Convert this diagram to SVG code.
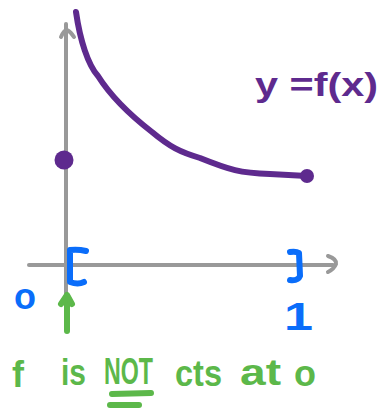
<svg xmlns="http://www.w3.org/2000/svg" width="392" height="408" viewBox="0 0 392 408">
<style>
.axis{stroke:#999;stroke-width:4;fill:none;stroke-linecap:round;stroke-linejoin:round}
.purple{stroke:#5e2a8e;fill:none;stroke-width:6;stroke-linecap:round;stroke-linejoin:round}
.blue{stroke:#0a6dfa;fill:none;stroke-width:6;stroke-linecap:round;stroke-linejoin:round}
.green{stroke:#5cb84a;fill:none;stroke-width:6;stroke-linecap:round;stroke-linejoin:round}
.t{font-family:"Liberation Sans",sans-serif;font-weight:bold}
.g{fill:#5cb84a;font-size:36px}
</style>
<rect width="392" height="408" fill="#fff"/>
<g id="axes">
<path class="axis" d="M66 24 L66 302"/>
<path class="axis" d="M61 37 Q64 30 67 30 Q71 32 74 37"/>
<path class="axis" d="M29 265 L333 265"/>
<path class="axis" d="M328 256 Q337 259 336 264 Q334 269 328 272"/>
</g>
<g id="curve">
<path class="purple" d="M76 12 C80 40 88 65 98 76 C110 95 130 115 152 132 C170 147 180 152 200 158 C230 170 240 173 270 174 L307 176"/>
<circle cx="307" cy="176" r="7" fill="#5e2a8e"/>
<circle cx="64" cy="160" r="9.5" fill="#5e2a8e"/>
<text class="t" x="255" y="96" font-size="34" fill="#5e2a8e" textLength="123" lengthAdjust="spacingAndGlyphs">y =f(x)</text>
</g>
<g id="interval">
<path class="blue" d="M86 251 Q78 249 70 250 L70 282 Q78 285 84 282"/>
<path class="blue" d="M290 252 Q296 251 299 253 L300 276 Q298 281 290 280"/>
<text class="t" x="14" y="309" font-size="36" fill="#0a6dfa">o</text>
<text class="t" x="284" y="330" font-size="38" fill="#0a6dfa" textLength="29" lengthAdjust="spacingAndGlyphs">1</text>
</g>
<g id="note">
<path class="green" d="M67 331 L67 297"/>
<path class="green" d="M61 304 L67 295 L72 304"/>
<text class="t g" x="12" y="387" font-size="42">f</text>
<text class="t g" x="61" y="385" textLength="25" lengthAdjust="spacingAndGlyphs">is</text>
<text class="t g" x="104" y="384" textLength="49" lengthAdjust="spacingAndGlyphs">NOT</text>
<text class="t g" x="175" y="386" textLength="47" lengthAdjust="spacingAndGlyphs">cts</text>
<text class="t g" x="240" y="385" textLength="41" lengthAdjust="spacingAndGlyphs">at</text>
<text class="t g" x="294" y="386" textLength="22" lengthAdjust="spacingAndGlyphs">o</text>
<path class="green" d="M112 394 L151 393"/>
<path class="green" d="M110 405 L139 405"/>
</g>
</svg>
